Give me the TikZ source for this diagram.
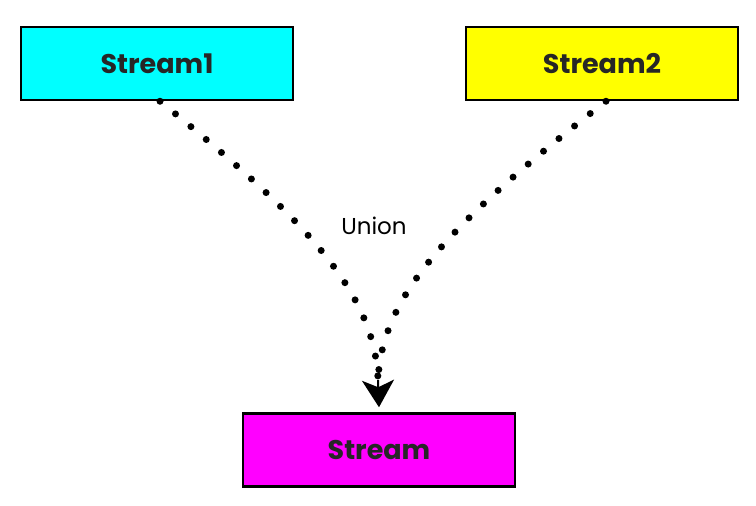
\documentclass[tikz,border=0pt]{standalone}
\usepackage{fontspec}
\setmainfont{Poppins}
\usetikzlibrary{arrows.meta}
\definecolor{cyanbox}{RGB}{0,255,255}
\definecolor{yellowbox}{RGB}{255,255,0}
\definecolor{magentabox}{RGB}{255,0,255}
\tikzset{
  streambox/.style={draw=black, line width=2.5pt, minimum width=272pt, minimum height=73pt, inner sep=0pt, font=\fontsize{27}{30}\selectfont\bfseries, text=black!85},
  dotline/.style={line width=7pt, line cap=round, dash pattern=on 0pt off 20pt},
  tip/.style={-{Stealth[length=27pt,width=32pt,inset=7pt]}, line width=2pt}
}
\begin{document}
\begin{tikzpicture}[x=1pt,y=-1pt]
\useasboundingbox (0,0) rectangle (756,506);
\node[streambox, fill=cyanbox] (s1) at (157,63.5) {Stream1};
\node[streambox, fill=yellowbox] (s2) at (602,63.5) {Stream2};
\node[streambox, fill=magentabox] (s) at (379,450) {Stream};
\coordinate (m) at (378,380);
\node[font=\fontsize{23}{26}\selectfont] (u) at (374,226) {Union};
\draw[dotline] (s1.south -| 160,0) .. controls (300,215) and (375,290) .. (m);
\draw[dotline] (s2.south -| 606,0) .. controls (440,230) and (382,300) .. (m);
\draw[tip] (m) -- ([yshift=5pt]s.north);
\end{tikzpicture}
\end{document}
